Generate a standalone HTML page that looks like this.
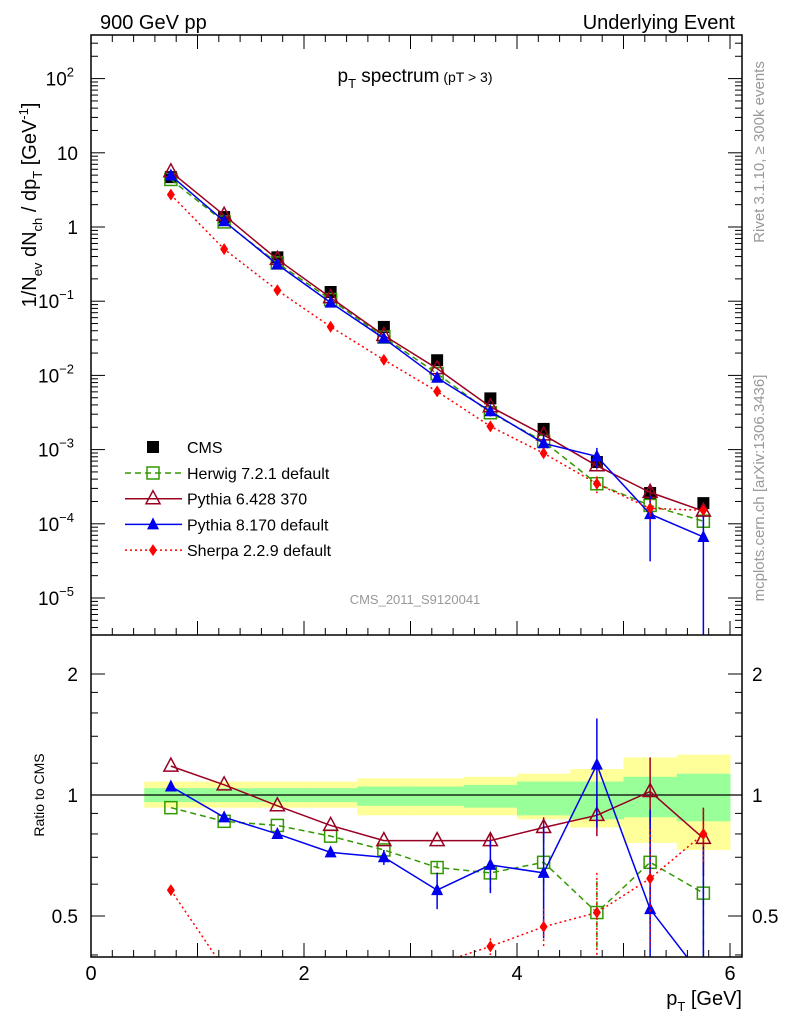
<!DOCTYPE html>
<html><head><meta charset="utf-8"><style>
html,body{margin:0;padding:0;background:#fff;width:786px;height:1024px;overflow:hidden;}
svg{font-family:"Liberation Sans",sans-serif;display:block;}
</style></head><body>
<svg id="c" width="786" height="1024" viewBox="0 0 786 1024">
<text x="100" y="29" font-size="20">900 GeV pp</text>
<text x="735" y="29" font-size="20" text-anchor="end">Underlying Event</text>
<text x="415" y="82" font-size="19" text-anchor="middle">p<tspan font-size="13" dy="6">T</tspan><tspan dy="-6"> spectrum</tspan><tspan font-size="14"> (pT &gt;  3)</tspan></text>
<text x="415" y="604" font-size="13" fill="#999" text-anchor="middle">CMS_2011_S9120041</text>
<text transform="translate(764,152) rotate(-90)" font-size="15" fill="#999" text-anchor="middle">Rivet 3.1.10, ≥ 300k events</text>
<text transform="translate(764,488) rotate(-90)" font-size="15" fill="#999" text-anchor="middle">mcplots.cern.ch [arXiv:1306.3436]</text>
<text transform="translate(36,205) rotate(-90)" font-size="20" text-anchor="middle">1/N<tspan font-size="13" dy="6">ev</tspan><tspan dy="-6"> dN</tspan><tspan font-size="13" dy="6">ch</tspan><tspan dy="-6"> / dp</tspan><tspan font-size="13" dy="6">T</tspan><tspan dy="-6"> [GeV</tspan><tspan font-size="13" dy="-8">-1</tspan><tspan dy="8">]</tspan></text>
<text transform="translate(44,795) rotate(-90)" font-size="14" text-anchor="middle">Ratio to CMS</text>
<text x="742" y="1005" font-size="20" text-anchor="end">p<tspan font-size="13" dy="6">T</tspan><tspan dy="-6"> [GeV]</tspan></text>
<g id="g"></g>
</svg>
<script>
const xs=[0.75,1.25,1.75,2.25,2.75,3.25,3.75,4.25,4.75,5.25,5.75];
const cms=[4.7,1.36,0.39,0.133,0.045,0.016,0.0049,0.0019,0.00068,0.00026,0.00019];
const herwigR=[0.93,0.86,0.84,0.79,0.73,0.66,0.64,0.68,0.51,0.68,0.57];
const py6R=[1.18,1.06,0.94,0.84,0.77,0.77,0.77,0.83,0.89,1.02,0.78];
const py8R=[1.05,0.88,0.80,0.72,0.70,0.58,0.67,0.64,1.19,0.52,0.35];
const sherpaR=[0.58,0.37,0.36,0.34,0.36,0.38,0.42,0.47,0.51,0.62,0.80];
const herwigE=[0,0,0,0,0,0.02,0.06,0.1,0.1,0.2,0.25];
const py6E=[0,0,0,0,0,0,0.03,0.05,0.1,0.22,0.15];
const py8E=[0,0,0,0.02,0.03,0.06,0.1,0.2,0.36,0.4,0.4];
const sherpaE=[0,0,0,0,0,0,0.02,0.05,0.13,0.2,0.12];
const ylUp=[1.08,1.08,1.08,1.08,1.10,1.10,1.11,1.13,1.16,1.24,1.26];
const ylDn=[0.93,0.93,0.93,0.93,0.89,0.89,0.89,0.87,0.83,0.76,0.73];
const grUp=[1.04,1.04,1.04,1.04,1.05,1.05,1.06,1.08,1.08,1.11,1.13];
const grDn=[0.96,0.96,0.96,0.96,0.94,0.94,0.93,0.89,0.87,0.88,0.86];
const NS="http://www.w3.org/2000/svg",G=document.getElementById('g');
const L=91,R=742,T=35,M=635,B=957;
const X=v=>L+v*106.5;
const Y=v=>227-74.2*Math.log10(v);
const YR=v=>795-121*Math.log2(v);
function el(t,a,p){const e=document.createElementNS(NS,t);for(const k in a)e.setAttribute(k,a[k]);(p||G).appendChild(e);return e;}
const defs=el('defs',{});
const c1=el('clipPath',{id:'cm'},defs);el('rect',{x:L,y:T,width:R-L,height:M-T},c1);
const c2=el('clipPath',{id:'cr'},defs);el('rect',{x:L,y:M,width:R-L,height:B-M},c2);
const gm=el('g',{'clip-path':'url(#cm)'});
const gr=el('g',{'clip-path':'url(#cr)'});
xs.forEach((x,i)=>{
 const a=el('rect',{x:X(x-0.25),y:YR(ylUp[i]),width:106.5/2+0.5,height:YR(ylDn[i])-YR(ylUp[i]),fill:'#ffff99'},gr);
 
});
xs.forEach((x,i)=>{
 const b=el('rect',{x:X(x-0.25),y:YR(grUp[i]),width:106.5/2+0.5,height:YR(grDn[i])-YR(grUp[i]),fill:'#99ff99'},gr);
 
});
el('line',{x1:L,x2:R,y1:YR(1),y2:YR(1),stroke:'#000','stroke-width':1.2},gr);
function marker(p,k,x,y,col){
 if(k==='sq')return el('rect',{x:x-6,y:y-6,width:12,height:12,fill:'none',stroke:col,'stroke-width':1.5},p);
 if(k==='bsq')return el('rect',{x:x-6,y:y-6,width:12,height:12,fill:col},p);
 if(k==='otri')return el('path',{d:`M${x},${y-8}L${x+7},${y+5}L${x-7},${y+5}Z`,fill:'none',stroke:col,'stroke-width':1.5},p);
 if(k==='tri')return el('path',{d:`M${x},${y-7}L${x+6},${y+5}L${x-6},${y+5}Z`,fill:col},p);
 return el('path',{d:`M${x},${y-6}L${x+4},${y}L${x},${y+6}L${x-4},${y}Z`,fill:col},p);
}
const series=[
 {n:'herwig',r:herwigR,e:herwigE,c:'#339900',m:'sq',d:'6,4',lab:'Herwig 7.2.1 default'},
 {n:'pythia6',r:py6R,e:py6E,c:'#990022',m:'otri',d:'',lab:'Pythia 6.428 370'},
 {n:'pythia8',r:py8R,e:py8E,c:'#0000ee',m:'tri',d:'',lab:'Pythia 8.170 default'},
 {n:'sherpa',r:sherpaR,e:sherpaE,c:'#ff0000',m:'dia',d:'2,3',lab:'Sherpa 2.2.9 default'}];
xs.forEach((x,i)=>{const m=marker(gm,'bsq',X(x),Y(cms[i]),'#000');});
series.forEach(s=>{
 const pm=xs.map((x,i)=>X(x)+','+Y(cms[i]*s.r[i])).join(' ');
 const l1=el('polyline',{points:pm,fill:'none',stroke:s.c,'stroke-width':1.5,'stroke-dasharray':s.d},gm);
 
 const pr=xs.map((x,i)=>X(x)+','+YR(s.r[i])).join(' ');
 const l2=el('polyline',{points:pr,fill:'none',stroke:s.c,'stroke-width':1.5,'stroke-dasharray':s.d},gr);
 
 xs.forEach((x,i)=>{
  if(s.e[i]>0){
   const up=s.r[i]+s.e[i],dn=Math.max(s.r[i]-s.e[i],0.01);
   el('line',{x1:X(x),x2:X(x),y1:YR(up),y2:YR(dn),stroke:s.c,'stroke-width':1.5,'stroke-dasharray':s.d},gr);
   el('line',{x1:X(x),x2:X(x),y1:Y(cms[i]*up),y2:Y(cms[i]*dn),stroke:s.c,'stroke-width':1.5,'stroke-dasharray':s.d},gm);
  }
  const a=marker(gm,s.m,X(x),Y(cms[i]*s.r[i]),s.c);
  
  const b=marker(gr,s.m,X(x),YR(s.r[i]),s.c);
  
 });
});
el('rect',{x:L,y:T,width:R-L,height:B-T,fill:'none',stroke:'#000','stroke-width':1.5});
el('line',{x1:L,x2:R,y1:M,y2:M,stroke:'#000','stroke-width':1.5});
for(let v=0;v<=6.1;v+=0.2){const vv=Math.round(v*10)/10;const maj=Math.abs(vv-Math.round(vv))<1e-6;const h=maj?14:7;
 [M,B].forEach(yb=>{el('line',{x1:X(vv),x2:X(vv),y1:yb,y2:yb-h,stroke:'#000'});});
 el('line',{x1:X(vv),x2:X(vv),y1:T,y2:T+h,stroke:'#000'});}
[0,2,4,6].forEach(v=>{const t=el('text',{x:X(v),y:980,'font-size':20,'text-anchor':'middle'});t.textContent=v;});
for(let d=-6;d<=2;d++){for(let k=1;k<10;k++){const v=k*Math.pow(10,d);const y=Y(v);if(y<T||y>M)continue;const h=k===1?14:7;
 el('line',{x1:L,x2:L+h,y1:y,y2:y,stroke:'#000'});el('line',{x1:R,x2:R-h,y1:y,y2:y,stroke:'#000'});}}
const mainLabs=[[2,'10','2'],[1,'10',''],[0,'1',''],[-1,'10','−1'],[-2,'10','−2'],[-3,'10','−3'],[-4,'10','−4'],[-5,'10','−5']];
mainLabs.forEach(([d,b,e])=>{const t=el('text',{x:e?74:78,y:Y(Math.pow(10,d))+7,'font-size':19,'text-anchor':'end'});
 
 t.textContent=b;if(e){const s=el('tspan',{'font-size':13,dy:-9},t);s.textContent=e;}});
[0.4,0.5,0.6,0.7,0.8,0.9,1,1.2,1.4,1.6,1.8,2].forEach(v=>{const y=YR(v);const h=(v===0.5||v===1||v===2)?14:7;
 el('line',{x1:L,x2:L+h,y1:y,y2:y,stroke:'#000'});el('line',{x1:R,x2:R-h,y1:y,y2:y,stroke:'#000'});});
[['2',2],['1',1],['0.5',0.5]].forEach(([s,v])=>{
 const a=el('text',{x:78,y:YR(v)+7,'font-size':19,'text-anchor':'end'});a.textContent=s;
 const b=el('text',{x:752,y:YR(v)+7,'font-size':19});b.textContent=s;});
const lg=el('g',{});
let ly=447;
{marker(lg,'bsq',153,ly,'#000');const t=el('text',{x:187,y:ly+6,'font-size':16},lg);t.textContent='CMS';}
series.forEach((s,i)=>{const y=473+i*25.7;
 el('line',{x1:125,x2:182,y1:y,y2:y,stroke:s.c,'stroke-width':1.5,'stroke-dasharray':s.d},lg);
 marker(lg,s.m,153,y,s.c);
 const t=el('text',{x:187,y:y+6,'font-size':16},lg);t.textContent=s.lab;
 });
</script>
</body></html>
